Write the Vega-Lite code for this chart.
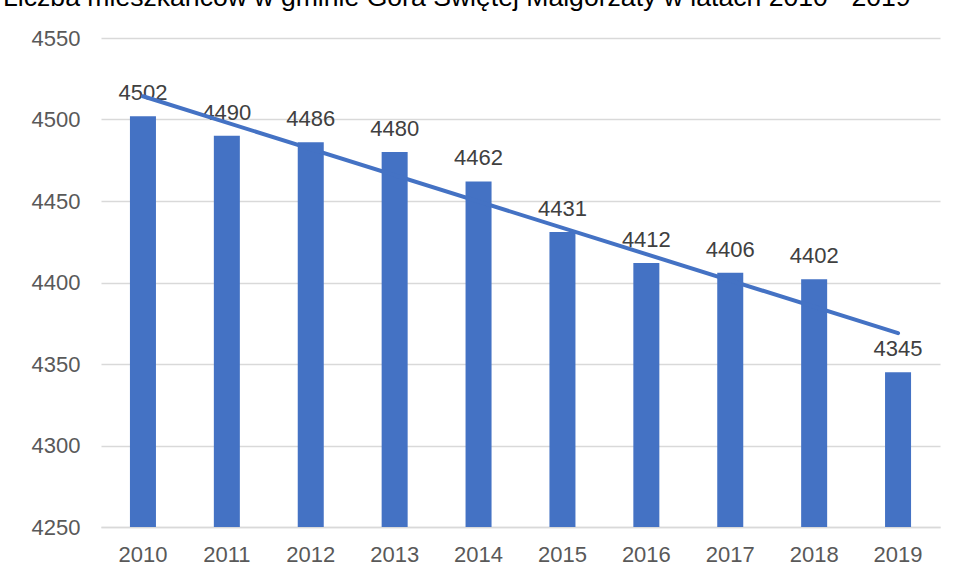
{
  "$schema": "https://vega.github.io/schema/vega-lite/v6.json",
  "width": 839,
  "height": 489,
  "autosize": {"type": "none"},
  "padding": {"left": 101, "top": 38, "right": 17, "bottom": 52},
  "background": "white",
  "title": {
    "text": "Liczba mieszkańców w gminie Góra Świętej Małgorzaty w latach 2010 - 2019",
    "anchor": "start",
    "dx": -28,
    "offset": 0,
    "dy": 12,
    "baseline": "bottom",
    "fontSize": 26.6,
    "font": "Liberation Sans",
    "fontWeight": "normal",
    "color": "#000000"
  },
  "data": {
    "values": [
      {"year": 2010, "value": 4502},
      {"year": 2011, "value": 4490},
      {"year": 2012, "value": 4486},
      {"year": 2013, "value": 4480},
      {"year": 2014, "value": 4462},
      {"year": 2015, "value": 4431},
      {"year": 2016, "value": 4412},
      {"year": 2017, "value": 4406},
      {"year": 2018, "value": 4402},
      {"year": 2019, "value": 4345}
    ]
  },
  "config": {
    "view": {"stroke": null},
    "font": "Liberation Sans"
  },
  "encoding": {
    "x": {
      "field": "year",
      "type": "ordinal",
      "scale": {"paddingInner": 0.69, "paddingOuter": 0.345},
      "axis": {
        "title": null,
        "labelAngle": 0,
        "labelFontSize": 22,
        "labelColor": "#595959",
        "labelPadding": 17,
        "ticks": false,
        "domainColor": "#D9D9D9",
        "domainWidth": 1.5
      }
    },
    "y": {
      "field": "value",
      "type": "quantitative",
      "scale": {"domain": [4250, 4550], "zero": false, "nice": false},
      "axis": {
        "title": null,
        "format": "d",
        "values": [4250, 4300, 4350, 4400, 4450, 4500, 4550],
        "labelFontSize": 22,
        "labelColor": "#595959",
        "labelPadding": 21,
        "ticks": false,
        "domain": false,
        "gridColor": "#D9D9D9",
        "gridWidth": 1.5
      }
    }
  },
  "layer": [
    {
      "mark": {"type": "bar", "color": "#4472C4"},
      "encoding": {"y2": {"datum": 4250}}
    },
    {
      "mark": {"type": "text", "baseline": "alphabetic", "dy": -16, "fontSize": 22, "color": "#404040"},
      "encoding": {"text": {"field": "value", "type": "quantitative", "format": "d"}}
    },
    {
      "transform": [{"regression": "value", "on": "year", "method": "linear"}],
      "mark": {"type": "line", "color": "#4472C4", "strokeWidth": 4, "strokeCap": "round"},
      "encoding": {}
    }
  ]
}
